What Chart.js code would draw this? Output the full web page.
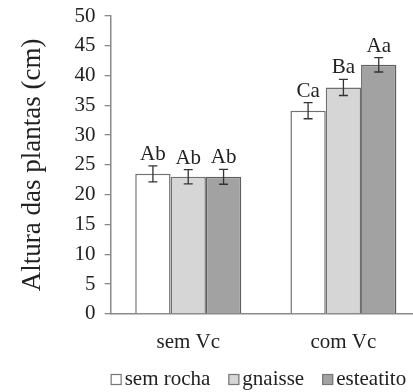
<!DOCTYPE html>
<html>
<head>
<meta charset="utf-8">
<script src="https://cdn.jsdelivr.net/npm/chart.js@4.4.1/dist/chart.umd.min.js"></script>
<style>
  html, body { margin: 0; padding: 0; background: #fff; overflow: hidden; }
  #wrap { width: 426px; height: 392px; position: relative; }
</style>
</head>
<body>
<div id="wrap"><canvas id="grafico"></canvas></div>
<script>
// Dados do gráfico
const categorias = ['sem Vc', 'com Vc'];
const semRocha = [23.5, 34.1];
const gnaisse = [23.0, 38.0];
const esteatito = [23.0, 41.8];
const erroSemRocha = [1.35, 1.35];
const erroGnaisse = [1.2, 1.35];
const erroEsteatito = [1.25, 1.2];
const letrasSemRocha = ['Ab', 'Ca'];
const letrasGnaisse = ['Ab', 'Ba'];
const letrasEsteatito = ['Ab', 'Aa'];
const ticksY = [0, 5, 10, 15, 20, 25, 30, 35, 40, 45, 50];

const fonte = '"Liberation Serif", "DejaVu Serif", serif';

// Plugin para barras de erro, letras e legenda
const barrasErro = {
    id: 'barrasErro',
    afterDatasetsDraw(chart) {
        const ctx = chart.ctx;
        const y = chart.scales.y;
        chart.data.datasets.forEach((ds, i) => {
            const meta = chart.getDatasetMeta(i);
            meta.data.forEach((bar, j) => {
                const v = ds.data[j];
                const e = ds.erros[j];
                const yTop = y.getPixelForValue(v + e);
                const yBot = y.getPixelForValue(v - e);
                ctx.save();
                ctx.strokeStyle = '#333';
                ctx.lineWidth = 1.3;
                ctx.beginPath();
                ctx.moveTo(bar.x, yTop);
                ctx.lineTo(bar.x, yBot);
                ctx.moveTo(bar.x - 4.5, yTop);
                ctx.lineTo(bar.x + 4.5, yTop);
                ctx.moveTo(bar.x - 4.5, yBot);
                ctx.lineTo(bar.x + 4.5, yBot);
                ctx.stroke();
                ctx.fillStyle = '#222';
                ctx.font = '21px ' + fonte;
                ctx.textAlign = 'center';
                ctx.textBaseline = 'alphabetic';
                ctx.fillText(ds.letras[j], bar.x, yTop - 6);
                ctx.restore();
            });
        });
    },
    afterDraw(chart) {
        // legenda desenhada à mão
        const ctx = chart.ctx;
        let x = chart.chartArea.left;
        const base = 385;
        ctx.save();
        ctx.font = '21px ' + fonte;
        ctx.textBaseline = 'alphabetic';
        ctx.textAlign = 'left';
        chart.data.datasets.forEach(ds => {
            ctx.fillStyle = ds.backgroundColor;
            ctx.fillRect(x, base - 11, 11, 11);
            ctx.strokeStyle = '#777';
            ctx.lineWidth = 1.2;
            ctx.strokeRect(x + 0.5, base - 10.5, 10, 10);
            ctx.fillStyle = '#222';
            ctx.fillText(ds.label, x + 14, base);
            x += 14 + ctx.measureText(ds.label).width + 18;
        });
        ctx.restore();
    }
};

const ctx = document.getElementById('grafico').getContext('2d');
new Chart(ctx, {
    type: 'bar',
    data: {
        labels: categorias,
        datasets: [
            { label: 'sem rocha', data: semRocha, erros: erroSemRocha, letras: letrasSemRocha,
              backgroundColor: '#ffffff', borderColor: '#707070', borderWidth: 1.5 },
            { label: 'gnaisse', data: gnaisse, erros: erroGnaisse, letras: letrasGnaisse,
              backgroundColor: '#d6d6d6', borderColor: '#707070', borderWidth: 1.5 },
            { label: 'esteatito', data: esteatito, erros: erroEsteatito, letras: letrasEsteatito,
              backgroundColor: '#a2a2a2', borderColor: '#5e5e5e', borderWidth: 1.5 }
        ]
    },
    options: {
        responsive: true,
        maintainAspectRatio: false,
        animation: false,
        categoryPercentage: 0.683,
        barPercentage: 1.0,
        layout: { padding: { top: 16, left: 17, right: 5, bottom: 21 } },
        plugins: {
            tooltip: { enabled: false },
            legend: { display: false }
        },
        scales: {
            x: {
                grid: { display: false, drawTicks: false },
                border: { color: '#8a8a8a', width: 1.5 },
                ticks: { color: '#222', padding: 16, font: { family: fonte, size: 21 } }
            },
            y: {
                min: 0,
                max: 50,
                afterBuildTicks: axis => { axis.ticks = ticksY.map(v => ({ value: v })); },
                grid: { drawOnChartArea: false, drawTicks: true, tickLength: 6, color: '#8a8a8a', lineWidth: 1.3 },
                border: { color: '#8a8a8a', width: 1.5 },
                ticks: {
                    color: '#222',
                    padding: 4,
                    autoSkip: false,
                    callback: v => v + ' ',
                    font: { family: fonte, size: 21, lineHeight: 1 }
                },
                title: {
                    display: true,
                    text: 'Altura das plantas (cm)',
                    color: '#222',
                    padding: { top: 0, bottom: 21 },
                    font: { family: fonte, size: 27 }
                }
            }
        }
    },
    plugins: [barrasErro]
});
</script>
</body>
</html>
